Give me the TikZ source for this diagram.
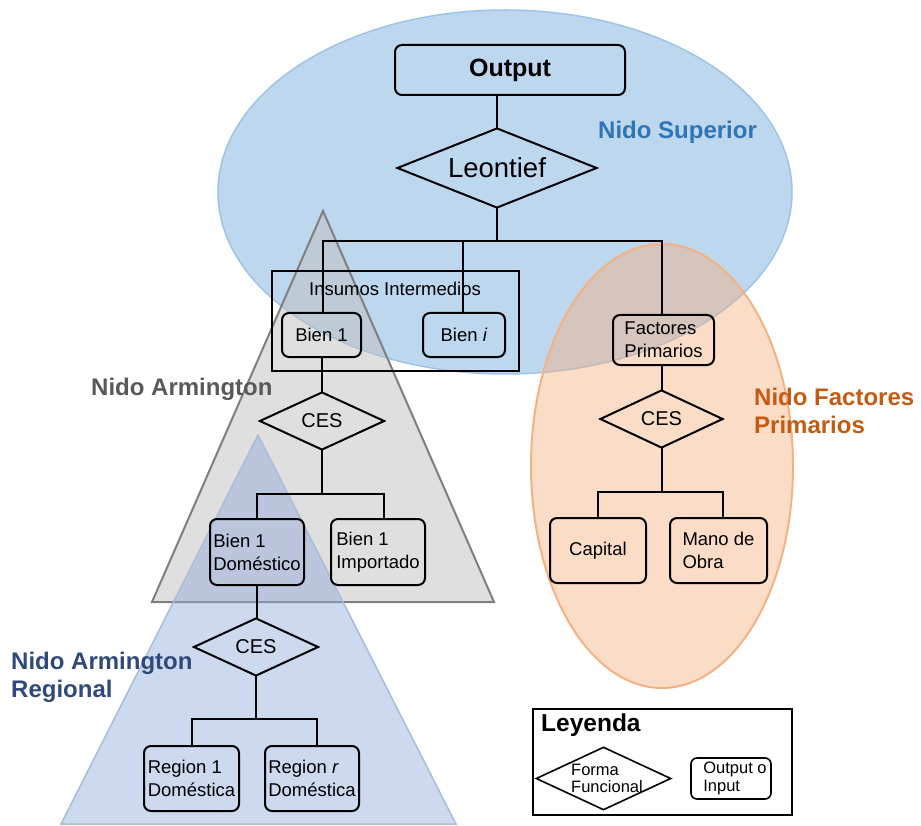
\documentclass[tikz,border=0pt]{standalone}
\usepackage{fontspec}
\setmainfont{Liberation Sans}
\usetikzlibrary{shapes.geometric}

\definecolor{supfill}{HTML}{BDD7EE}
\definecolor{supline}{HTML}{9DC3E6}
\definecolor{suptext}{HTML}{2E75B6}
\definecolor{armfill}{HTML}{BFBFBF}
\definecolor{armline}{HTML}{7F7F7F}
\definecolor{armtext}{HTML}{595959}
\definecolor{facfill}{HTML}{F4B183}
\definecolor{facline}{HTML}{F4B183}
\definecolor{factext}{HTML}{C55A11}
\definecolor{regfill}{HTML}{8FAADC}
\definecolor{regline}{HTML}{A9BCD8}
\definecolor{regtext}{HTML}{2F4A7A}

\tikzset{
  conn/.style={line width=2pt, line cap=rect},
  stepbox/.style={draw, line width=2pt, rounded corners=7pt, inner sep=1pt,
    align=left, font=\fontsize{18.5}{23}\selectfont},
  funcform/.style={draw, diamond, line width=2pt, inner sep=0pt, aspect=2,
    font=\fontsize{20}{24}\selectfont},
  nestlabel/.style={font=\bfseries\fontsize{24}{28}\selectfont, align=left, anchor=west, inner sep=0pt},
}

\begin{document}
\begin{tikzpicture}[x=1pt,y=-1pt]
\useasboundingbox (0,0) rectangle (921,826);

% nests (background shapes)
\fill[supfill] (505,192) ellipse [x radius=287, y radius=182];
\draw[supline, line width=1.5pt] (505,192) ellipse [x radius=287, y radius=182];
\draw[armline, line width=2pt, fill=armfill, fill opacity=0.5]
  (323,211) -- (494,602) -- (152,602) -- cycle;
\draw[facline, line width=2pt, fill=facfill, fill opacity=0.45]
  (662,466) ellipse [x radius=131, y radius=222];
\draw[regline, line width=1.5pt, fill=regfill, fill opacity=0.45]
  (258,435) -- (456,824) -- (61,824) -- cycle;

% nest labels
\node[nestlabel, text=suptext] (lsup) at (598,132) {Nido Superior};
\node[nestlabel, text=armtext] (larm) at (91,389) {Nido Armington};
\node[nestlabel, text=factext] (lfac) at (754,411) {Nido Factores\\Primarios};
\node[nestlabel, text=regtext] (lreg) at (11,677) {Nido Armington\\Regional};

% upper nest
\node[stepbox, minimum width=230, minimum height=50, font=\bfseries\fontsize{25}{28}\selectfont, align=center]
  (out) at (510,70) {Output};
\node[funcform, minimum width=200, minimum height=80, font=\fontsize{27.5}{30}\selectfont]
  (leon) at (497,168) {Leontief};
\draw[conn, line width=2pt, line cap=butt] (272,271) rectangle (519,371);
\node[font=\fontsize{18.5}{21}\selectfont, inner sep=0pt] (ins) at (395,289) {Insumos Intermedios};
\node[stepbox, minimum width=79, minimum height=44, align=center] (b1) at (321.5,335) {Bien 1};
\node[stepbox, minimum width=82, minimum height=44, align=center] (bi) at (464,335) {Bien \textit{i}};
\node[stepbox, minimum width=101, minimum height=50] (fp) at (663.5,340) {Factores\\Primarios};

\draw[conn] (leon.north) -- (leon.north |- out.south);
\draw[conn] (leon.south) -- ++(0,32) coordinate (jtop);
\draw[conn] (jtop) -| ([xshift=1.5pt]b1.north);
\draw[conn] (jtop) -| ([xshift=-1.5pt]fp.north);
\draw[conn] ([xshift=-1pt]bi.north) -- ([xshift=-1pt]bi.north |- jtop);

% Armington nest
\node[funcform, minimum width=125, minimum height=58] (cesa) at (322,421) {CES};
\node[stepbox, minimum width=94, minimum height=66] (bdom) at (257,552) {Bien 1\\Doméstico};
\node[stepbox, minimum width=94, minimum height=66] (bimp) at (378,552) {Bien 1\\Importado};
\draw[conn] ([xshift=0.5pt]b1.south) -- (cesa.north);
\draw[conn] (cesa.south) -- ++(0,43) coordinate (jarm);
\draw[conn] (jarm) -| (bdom.north);
\draw[conn] (jarm) -| ([xshift=6pt]bimp.north);

% regional Armington nest
\node[funcform, minimum width=125, minimum height=58] (cesr) at (256,647) {CES};
\node[stepbox, minimum width=95, minimum height=65] (reg1) at (191.5,778.5) {Region 1\\Doméstica};
\node[stepbox, minimum width=94, minimum height=65] (regr) at (312,778.5) {Region \textit{r}\\Doméstica};
\draw[conn] (bdom.south) -- (bdom.south |- cesr.north);
\draw[conn] (cesr.south) -- ++(0,42) coordinate (jreg);
\draw[conn] (jreg) -| (reg1.north);
\draw[conn] (jreg) -| ([xshift=5pt]regr.north);

% primary factors nest
\node[funcform, minimum width=123, minimum height=58] (cesf) at (661.5,419) {CES};
\node[stepbox, minimum width=96, minimum height=65] (cap) at (598,550.5) {Capital};
\node[stepbox, minimum width=97, minimum height=65] (mano) at (718.5,550.5) {Mano de\\Obra};
\draw[conn] (fp.south -| cesf.north) -- (cesf.north);
\draw[conn] (cesf.south) -- ++(0,43) coordinate (jfac);
\draw[conn] (jfac) -| (cap.north);
\draw[conn] (jfac) -| ([xshift=4.5pt]mano.north);

% legend
\draw[line width=2pt, fill=white] (533,709) rectangle (792,815);
\node[font=\bfseries\fontsize{24.5}{28}\selectfont, anchor=west, inner sep=0pt] (leyenda) at (541,725) {Leyenda};
\node[draw, diamond, line width=1.6pt, inner sep=0pt, minimum width=135, minimum height=63] (legff) at (603.5,778.5) {};
\node[font=\fontsize{16.5}{17.5}\selectfont, align=left, inner sep=0pt] (legfft) at (607,778.5) {Forma\\Funcional};
\node[stepbox, line width=1.6pt, minimum width=80, minimum height=41, rounded corners=6pt,
  font=\fontsize{16.5}{17.5}\selectfont] (legio) at (731,778.5) {\hspace{8pt}Output o\\\hspace{8pt}Input};
\end{tikzpicture}
\end{document}
